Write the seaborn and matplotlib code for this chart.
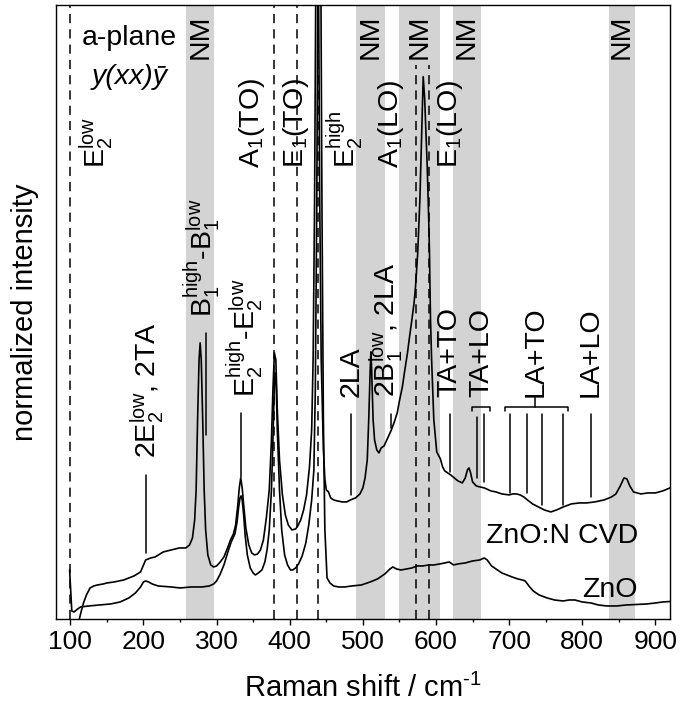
import matplotlib
matplotlib.use("Agg")
import matplotlib.pyplot as plt
from matplotlib.ticker import MultipleLocator
import pandas as pd
import seaborn as sns

# ---------------- data ----------------
# ZnO:N CVD spectrum (upper curve), intensity in arbitrary units
znon_x = [112, 115, 118, 122, 127, 132, 137, 145, 150, 160, 173, 187, 196, 200, 203,
          210, 216, 227, 238, 249, 258, 263, 267, 270, 272, 274, 276, 277.5, 279, 281,
          283, 285, 288, 292, 296, 300, 305, 310, 315, 319, 323, 326, 329, 331, 333,
          335, 337, 340, 344, 348, 352, 356, 360, 364, 368, 372, 375, 377, 379, 381,
          383, 386, 390, 394, 398, 403, 408, 411, 415, 419, 423, 427, 430, 432, 434,
          435.5, 437.5, 439.5, 441, 443, 446, 448, 450, 453, 456, 460, 465, 472, 478,
          483, 490, 496, 500, 503, 506, 508, 510, 511, 512, 514, 516, 519, 522, 525,
          529, 534, 539, 543, 547, 550, 554, 557, 561, 564, 567, 570, 572, 575, 578,
          580.5, 582.5, 584.5, 586.5, 588, 590, 591, 592.5, 594, 597, 601, 606, 609,
          612, 616, 620, 625, 630, 636, 640, 643, 645, 647, 650, 655, 660, 666, 675,
          682, 690, 700, 705, 710, 715, 720, 725, 732, 740, 748, 757, 765, 774, 785,
          796, 806, 817, 830, 840, 846, 852, 857, 861, 865, 870, 880, 890, 900, 910, 920]
znon_y = [-1, 8, 16, 24, 31, 33, 34, 35, 36, 37, 39, 43, 47, 54, 59,
          61, 62, 67, 69, 71, 71, 74, 81, 99, 129, 199, 259, 276, 259, 199,
          129, 89, 64, 54, 52, 53, 57, 62, 71, 79, 85, 94, 114, 131, 141,
          131, 114, 91, 74, 66, 64, 65, 69, 79, 101, 129, 179, 229, 266, 259,
          209, 159, 124, 104, 94, 89, 90, 93, 99, 109, 124, 152, 189, 260, 420,
          620, 1100, 620, 420, 260, 170, 140, 129, 127, 121, 119, 118, 117, 117,
          119, 121, 125, 131, 141, 159, 199, 249, 267, 249, 199, 179, 169, 166, 171,
          173, 181, 189, 197, 206, 218, 232, 247, 266, 283, 299, 316, 332, 366, 420,
          490, 542, 520, 480, 452, 400, 369, 299, 259, 199, 167, 160, 152,
          148, 146, 144, 141, 138, 136, 141, 149, 151, 147, 137, 133, 132, 131, 128,
          127, 125, 124, 125, 125, 124, 122, 119, 115, 112, 109, 107, 109, 112, 115,
          116, 116, 117, 119, 122, 125, 133, 141, 140, 133, 127, 125, 126, 126, 128, 131]

# undoped ZnO spectrum (lower curve)
zno_x = [99, 100.5, 102, 105, 110, 114, 125, 140, 155, 168, 180, 189, 196, 200, 203,
         207, 212, 220, 238, 250, 265, 280, 290, 296, 300, 305, 310, 315, 320, 325,
         328, 330, 332, 333.5, 335, 337, 339, 342, 346, 350, 353, 357, 362, 366, 369,
         372, 375, 377, 379, 380, 381.5, 383, 386, 389, 393, 397, 401, 404, 408, 412,
         417, 422, 426, 430, 433, 435, 437, 438.5, 440.5, 442.5, 444, 446, 448, 451,
         455, 460, 467, 475, 485, 498, 510, 520, 530, 537, 541, 546, 552, 560, 567,
         574, 582, 590, 597, 605, 612, 618, 624, 630, 640, 650, 660, 666, 670, 676,
         682, 690, 697, 704, 712, 718, 722, 727, 733, 741, 752, 762, 774, 782, 790,
         800, 812, 822, 834, 847, 860, 875, 888, 900, 910, 920]
zno_y = [49, 29, 8, 7, 10, 12, 13, 14, 15, 17, 21, 26, 32, 37, 38,
         37, 35, 33, 32, 31, 32, 32, 33, 35, 38, 45, 54, 66, 77, 85,
         97, 111, 121, 123, 119, 104, 84, 64, 51, 46, 44, 46, 49, 57, 69,
         89, 129, 179, 234, 246, 234, 189, 129, 89, 64, 54, 49, 49, 51, 55,
         63, 76, 94, 119, 149, 230, 420, 650, 1100, 650, 420, 200, 90, 41,
         36, 33, 32, 32, 33, 34, 37, 40, 45, 50, 52, 50, 49, 50, 51,
         53, 53, 54, 54, 55, 56, 57, 54, 55, 56, 58, 59, 61, 59, 53,
         50, 46, 44, 42, 40, 39, 38, 33, 28, 24, 21, 19, 18, 19, 19,
         17, 16, 14, 13, 13, 14, 14.5, 15, 16, 17, 17.5]

# non-mode (NM) regions
nm_lo = [258, 490, 550, 623, 836]
nm_hi = [297, 530, 605, 661, 872]

# first-order phonon modes (dashed lines)
mode_pos = [99, 378, 410, 438, 572, 590]
mode_top = [614, 614, 614, 614, 554, 554]
mode_labels = ["E$_2^{low}$", "A$_1$(TO)", "E$_1$(TO)", "E$_2^{high}$", "A$_1$(LO)", "E$_1$(LO)"]
mode_label_x = [135, 349, 409, 476, 538, 618.5]

# second-order / multi-phonon assignments (solid short lines)
mp_pos = [203, 285, 333, 484, 539, 619, 656, 665, 700.5, 724, 745, 773, 812]
mp_top = [144, 286, 206, 205, 205, 205, 202, 205, 205, 205, 205, 205, 205]
mp_bot = [66, 184, 142, 124, 191, 147, 141, 137, 126, 126, 114, 114, 122]
mp_labels = ["2E$_2^{low}$, 2TA", "B$_1^{high}$-B$_1^{low}$", "E$_2^{high}$-E$_2^{low}$",
             "2LA", "2B$_1^{low}$, 2LA", "TA+TO", "TA+LO", "LA+TO", "LA+LO"]
mp_label_x = [205, 280.6, 340, 484.4, 532, 618.5, 662, 736, 811]
mp_label_y = [161, 302, 222, 222, 222, 222, 222, 222, 222]

# ---------------- style ----------------
sns.set_theme(style="white")
plt.rcParams["font.family"] = ["Liberation Sans", "DejaVu Sans"]
plt.rcParams["mathtext.fontset"] = "custom"
plt.rcParams["mathtext.rm"] = "Liberation Sans"
plt.rcParams["mathtext.it"] = "Liberation Sans:italic"
plt.rcParams["mathtext.bf"] = "Liberation Sans:bold"
plt.rcParams["mathtext.default"] = "regular"
plt.rcParams["axes.unicode_minus"] = False
for k in ["text.color", "axes.labelcolor", "xtick.color", "ytick.color", "axes.edgecolor"]:
    plt.rcParams[k] = "black"

fig = plt.figure(figsize=(6.81, 7.18), dpi=100)
ax = fig.add_axes([0.0818, 0.1379, 0.9021, 0.8556])

XMIN, XMAX, YMIN, YMAX = 80, 920, 0, 614
FS = 20.5

# NM bands
for lo, hi in zip(nm_lo, nm_hi):
    ax.axvspan(lo, hi, color="#d3d3d3", lw=0, zorder=0)
    ax.text((lo + hi) / 2, 604, "NM", rotation=90, ha="center", va="top", fontsize=FS)

# dashed mode lines
for xp, top in zip(mode_pos, mode_top):
    ax.plot([xp, xp], [YMIN, top], color="black", lw=1.1, dashes=(6, 4), zorder=1)
for lab, xl in zip(mode_labels, mode_label_x):
    ax.text(xl, 451, lab, rotation=90, ha="center", va="bottom", fontsize=FS)

# multi-phonon marker lines
for xp, t, b in zip(mp_pos, mp_top, mp_bot):
    ax.plot([xp, xp], [b, t], color="black", lw=1.1, zorder=2)
for lab, xl, yl in zip(mp_labels, mp_label_x, mp_label_y):
    ax.text(xl, yl, lab, rotation=90, ha="center", va="bottom", fontsize=FS)

# brackets
ax.plot([649.5, 649.5, 673.5, 673.5], [208, 212, 212, 208], color="black", lw=1.1)
ax.plot([694, 694, 780, 780], [208, 212, 212, 208], color="black", lw=1.1)
ax.plot([735, 735], [212, 222], color="black", lw=1.1)

# spectra
df_n = pd.DataFrame({"x": znon_x, "y": znon_y})
df_0 = pd.DataFrame({"x": zno_x, "y": zno_y})
sns.lineplot(data=df_n, x="x", y="y", color="black", lw=1.2, sort=False, estimator=None, ax=ax, zorder=3)
sns.lineplot(data=df_0, x="x", y="y", color="black", lw=1.2, sort=False, estimator=None, ax=ax, zorder=3)

ax.text(876, 76, "ZnO:N CVD", ha="right", va="baseline", fontsize=FS)
ax.text(876, 22, "ZnO", ha="right", va="baseline", fontsize=FS)
ax.text(180.7, 574, "a-plane", ha="center", va="baseline", fontsize=FS)
ax.text(181, 535, "y(xx)ȳ", ha="center", va="baseline", fontsize=FS, style="italic")

ax.set_xlim(XMIN, XMAX)
ax.set_ylim(YMIN, YMAX)
ax.xaxis.set_major_locator(MultipleLocator(100))
ax.xaxis.set_minor_locator(MultipleLocator(50))
ax.set_yticks([])
ax.tick_params(axis="x", which="major", direction="out", length=4.2, width=1.0,
               labelsize=19, pad=4, bottom=True, color="black", labelcolor="black")
ax.tick_params(axis="x", which="minor", direction="out", length=2.5, width=1.0, bottom=True, color="black")
for sp in ax.spines.values():
    sp.set_color("black")
    sp.set_linewidth(1.0)
ax.set_xlabel(r"Raman shift / cm$^{\text{-1}}$", fontsize=21, labelpad=14)
ax.set_ylabel("normalized intensity", fontsize=21, labelpad=12)

fig.savefig("out.png", dpi=100)
